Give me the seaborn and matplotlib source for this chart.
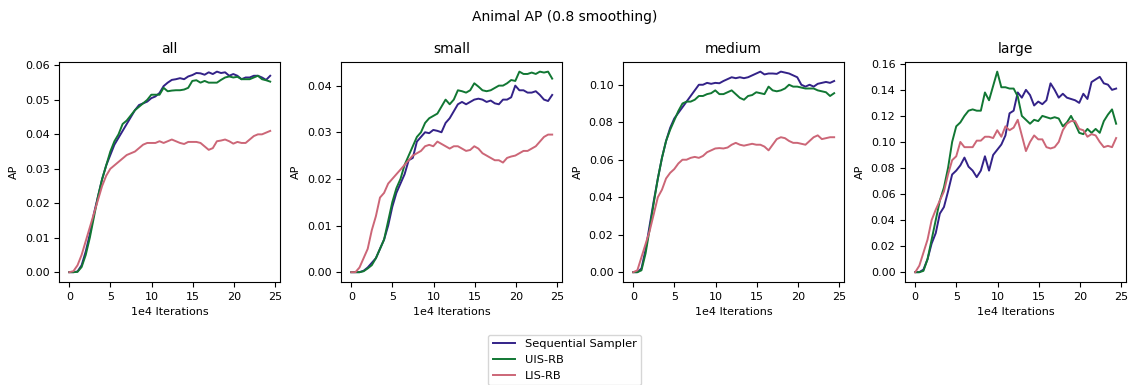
import numpy as np
import pandas as pd
import matplotlib
matplotlib.use("Agg")
import matplotlib.pyplot as plt
import seaborn as sns

panels = ["all", "small", "medium", "large"]
methods = ["Sequential Sampler", "UIS-RB", "LIS-RB"]
colors = ["#332288", "#117733", "#CC6677"]
x_iter = np.linspace(0, 24.4, 50)

seq_all = [0, 0, 0.0002, 0.002, 0.006, 0.011, 0.017, 0.022, 0.027, 0.031, 0.034, 0.037, 0.039, 0.041, 0.043, 0.045, 0.047, 0.0485, 0.049, 0.0495, 0.0505, 0.051, 0.052, 0.054, 0.055, 0.0558, 0.056, 0.0563, 0.056, 0.0568, 0.0572, 0.0578, 0.0577, 0.0573, 0.058, 0.0575, 0.0582, 0.0578, 0.058, 0.057, 0.0575, 0.057, 0.056, 0.0565, 0.0565, 0.057, 0.057, 0.0565, 0.0558, 0.057]
uis_all = [0, 0, 0.0001, 0.0015, 0.005, 0.010, 0.016, 0.022, 0.027, 0.031, 0.035, 0.038, 0.040, 0.043, 0.044, 0.0455, 0.047, 0.048, 0.049, 0.050, 0.0515, 0.0515, 0.0515, 0.0535, 0.0525, 0.0527, 0.0528, 0.0528, 0.053, 0.0535, 0.0555, 0.0557, 0.055, 0.0555, 0.055, 0.055, 0.055, 0.0558, 0.0565, 0.0568, 0.0565, 0.0567, 0.056, 0.056, 0.056, 0.0565, 0.057, 0.056, 0.0557, 0.0553]
lis_all = [0, 0.0003, 0.002, 0.005, 0.009, 0.013, 0.017, 0.021, 0.025, 0.028, 0.030, 0.031, 0.032, 0.033, 0.034, 0.0345, 0.035, 0.036, 0.037, 0.0375, 0.0375, 0.0375, 0.038, 0.0375, 0.038, 0.0385, 0.038, 0.0375, 0.0372, 0.0378, 0.0378, 0.0378, 0.0375, 0.0365, 0.0355, 0.036, 0.038, 0.0382, 0.0385, 0.038, 0.0373, 0.0378, 0.0375, 0.0375, 0.0385, 0.0395, 0.040, 0.040, 0.0405, 0.041]

seq_small = [0, 0, 0, 0.0003, 0.001, 0.002, 0.003, 0.005, 0.007, 0.010, 0.014, 0.017, 0.019, 0.021, 0.024, 0.0245, 0.028, 0.029, 0.030, 0.0298, 0.0305, 0.0303, 0.030, 0.032, 0.033, 0.0345, 0.036, 0.0365, 0.036, 0.0365, 0.037, 0.0372, 0.037, 0.0365, 0.0368, 0.0362, 0.036, 0.037, 0.037, 0.0375, 0.040, 0.039, 0.039, 0.0385, 0.0385, 0.0388, 0.038, 0.037, 0.0367, 0.038]
uis_small = [0, 0, 0, 0.0002, 0.0008, 0.0015, 0.003, 0.005, 0.007, 0.011, 0.015, 0.018, 0.020, 0.023, 0.025, 0.027, 0.029, 0.030, 0.032, 0.033, 0.0335, 0.034, 0.0355, 0.037, 0.036, 0.037, 0.039, 0.0388, 0.0385, 0.039, 0.0405, 0.0398, 0.039, 0.0388, 0.039, 0.0395, 0.040, 0.040, 0.0405, 0.0412, 0.041, 0.043, 0.0425, 0.0425, 0.0428, 0.0425, 0.043, 0.0428, 0.043, 0.0415]
lis_small = [0, 0, 0.001, 0.003, 0.005, 0.009, 0.012, 0.016, 0.017, 0.019, 0.020, 0.021, 0.022, 0.023, 0.024, 0.025, 0.0255, 0.026, 0.027, 0.0273, 0.027, 0.028, 0.0275, 0.027, 0.0265, 0.027, 0.027, 0.0265, 0.026, 0.0262, 0.027, 0.0265, 0.0255, 0.025, 0.0245, 0.024, 0.024, 0.0235, 0.0245, 0.0248, 0.025, 0.0255, 0.026, 0.026, 0.0265, 0.027, 0.028, 0.029, 0.0295, 0.0295]

seq_medium = [0, 0, 0.002, 0.012, 0.025, 0.038, 0.050, 0.061, 0.070, 0.077, 0.082, 0.085, 0.088, 0.091, 0.094, 0.097, 0.100, 0.100, 0.101, 0.1005, 0.101, 0.1008, 0.102, 0.103, 0.104, 0.1035, 0.104, 0.1035, 0.104, 0.105, 0.106, 0.107, 0.1055, 0.106, 0.106, 0.1058, 0.107, 0.1065, 0.106, 0.105, 0.104, 0.100, 0.099, 0.100, 0.099, 0.1005, 0.101, 0.1015, 0.101, 0.102]
uis_medium = [0, 0, 0.001, 0.010, 0.023, 0.037, 0.050, 0.061, 0.070, 0.076, 0.081, 0.086, 0.090, 0.091, 0.091, 0.092, 0.094, 0.094, 0.095, 0.0955, 0.097, 0.095, 0.095, 0.096, 0.097, 0.095, 0.093, 0.092, 0.094, 0.0945, 0.096, 0.0955, 0.095, 0.099, 0.097, 0.0965, 0.097, 0.098, 0.100, 0.099, 0.099, 0.0985, 0.098, 0.098, 0.098, 0.097, 0.0965, 0.096, 0.094, 0.0955]
lis_medium = [0, 0.001, 0.008, 0.015, 0.022, 0.031, 0.040, 0.044, 0.050, 0.053, 0.055, 0.058, 0.060, 0.060, 0.061, 0.0615, 0.061, 0.062, 0.064, 0.065, 0.066, 0.0662, 0.066, 0.0665, 0.068, 0.069, 0.068, 0.0675, 0.068, 0.0685, 0.068, 0.068, 0.067, 0.065, 0.068, 0.071, 0.072, 0.0715, 0.070, 0.069, 0.069, 0.0685, 0.068, 0.070, 0.072, 0.073, 0.071, 0.0715, 0.072, 0.072]

seq_large = [0, 0, 0.002, 0.010, 0.022, 0.030, 0.045, 0.050, 0.062, 0.075, 0.078, 0.082, 0.088, 0.081, 0.078, 0.073, 0.078, 0.089, 0.078, 0.090, 0.094, 0.098, 0.105, 0.122, 0.124, 0.138, 0.134, 0.140, 0.136, 0.128, 0.131, 0.129, 0.132, 0.145, 0.140, 0.134, 0.137, 0.134, 0.133, 0.132, 0.130, 0.137, 0.133, 0.146, 0.148, 0.150, 0.145, 0.144, 0.140, 0.141]
uis_large = [0, 0, 0.001, 0.010, 0.025, 0.040, 0.055, 0.065, 0.080, 0.100, 0.112, 0.115, 0.120, 0.124, 0.125, 0.124, 0.124, 0.138, 0.132, 0.143, 0.154, 0.142, 0.142, 0.141, 0.141, 0.135, 0.120, 0.117, 0.114, 0.117, 0.116, 0.120, 0.119, 0.118, 0.119, 0.118, 0.112, 0.115, 0.120, 0.114, 0.107, 0.106, 0.110, 0.107, 0.110, 0.107, 0.116, 0.121, 0.125, 0.114]
lis_large = [0, 0.005, 0.015, 0.025, 0.040, 0.048, 0.055, 0.062, 0.075, 0.086, 0.089, 0.100, 0.096, 0.096, 0.096, 0.101, 0.101, 0.104, 0.104, 0.103, 0.109, 0.104, 0.112, 0.109, 0.111, 0.117, 0.105, 0.093, 0.100, 0.105, 0.102, 0.102, 0.096, 0.095, 0.096, 0.100, 0.109, 0.114, 0.116, 0.116, 0.110, 0.109, 0.104, 0.106, 0.105, 0.100, 0.096, 0.097, 0.096, 0.103]

series = {
    "all": [seq_all, uis_all, lis_all],
    "small": [seq_small, uis_small, lis_small],
    "medium": [seq_medium, uis_medium, lis_medium],
    "large": [seq_large, uis_large, lis_large],
}

rows = []
for p in panels:
    for m, vals in zip(methods, series[p]):
        for xi, v in zip(x_iter, vals):
            rows.append({"panel": p, "method": m, "x": xi, "AP": v})
df = pd.DataFrame(rows)

plt.rcParams["font.size"] = 8
plt.rcParams["axes.titlesize"] = 10
fig, axes = plt.subplots(1, 4, figsize=(11.29, 3.85), dpi=100)
fig.subplots_adjust(left=0.0525, right=0.9975, top=0.840, bottom=0.267, wspace=0.276)
palette = dict(zip(methods, colors))
for ax, p in zip(axes, panels):
    sns.lineplot(data=df[df["panel"] == p], x="x", y="AP", hue="method",
                 hue_order=methods, palette=palette, ax=ax, linewidth=1.4, legend=True)
    ax.set_title(p)
    ax.set_xlabel("1e4 Iterations")
    ax.set_ylabel("AP")
    ax.set_xticks([0, 5, 10, 15, 20, 25])
    handles, labels = ax.get_legend_handles_labels()
    ax.get_legend().remove()

fig.suptitle("Animal AP (0.8 smoothing)", fontsize=10, y=0.975)
fig.legend(handles, labels, loc="upper center", bbox_to_anchor=(0.5, 0.145), fontsize=8.2)
fig.savefig("out.png", dpi=100)
